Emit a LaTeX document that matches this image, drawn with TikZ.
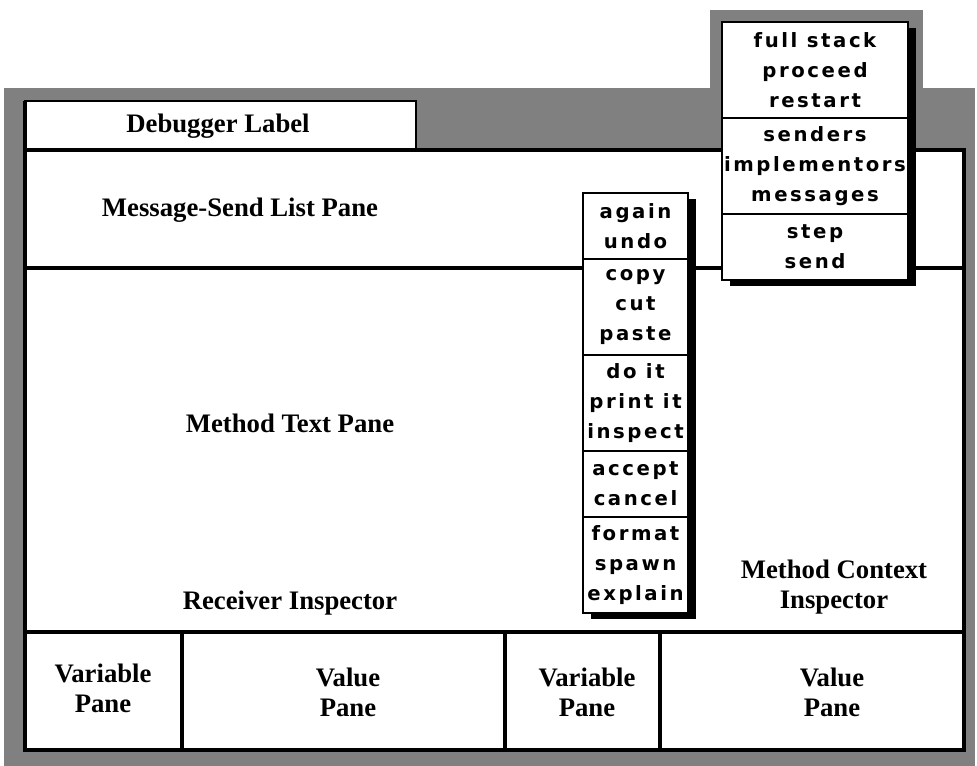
\documentclass[tikz,border=0pt]{standalone}
\usepackage{fontspec}
\setmainfont{Liberation Serif}
\newfontfamily\menufont[LetterSpace=13]{DejaVu Sans Bold}
\usetikzlibrary{positioning,shadows}
\definecolor{dither}{gray}{0.5}

\begin{document}
\begin{tikzpicture}[x=0.025cm, y=-0.025cm,
  pane/.style={font=\fontsize{19}{21.3}\selectfont\bfseries, align=center},
  divider/.style={line width=3pt},
  menugrp/.style={draw, line width=1pt, fill=white, outer sep=0pt, inner sep=0pt,
    align=center, font=\menufont\fontsize{14}{21.3}\selectfont,
    minimum height=#1*0.75cm+0.15cm},
  pop/.style={drop shadow={shadow xshift=0.2cm, shadow yshift=-0.15cm,
    fill=black, opacity=1}},
  narrow/.style={minimum width=2.625cm},
  wide/.style={minimum width=4.65cm}]

  \useasboundingbox (0,0) rectangle (977,766);

  % dithered window frame and the halo of the top menu
  \fill[dither] (4,88) rectangle (975,766);
  \fill[dither] (710,10) rectangle (923,90);

  \draw[line width=1.2pt, fill=white] (25,101) rectangle (416,150);
  \draw[divider, fill=white] (25,150) rectangle (964,750);
  \draw[divider] (25,101) -- (25,150);

  % pane borders
  \draw[divider] (25,268) -- (964,268);
  \draw[divider] (25,632) -- (964,632);
  \draw[divider] (182,632) -- (182,750);
  \draw[divider] (505,632) -- (505,750);
  \draw[divider] (660,632) -- (660,750);

  \node[pane] (label) at (218,126) {Debugger Label};
  \node[pane] (sends) at (240,210) {Message-Send List Pane};
  \node[pane] (method) at (290,423) {Method Text Pane};
  \node[pane] (receiver) at (290,603) {Receiver Inspector};
  \node[pane] (context) at (834,587) {Method Context\\Inspector};
  \node[pane] (rvar) at (103,688) {Variable\\Pane};
  \node[pane] (rval) at (348,692) {Value\\Pane};
  \node[pane] (cvar) at (587,692) {Variable\\Pane};
  \node[pane] (cval) at (832,692) {Value\\Pane};

  % text pane menu
  \node[menugrp=2, narrow, pop, anchor=north west] (edit) at (583,193) {again\\undo};
  \node[menugrp=3, narrow, pop, below=0pt of edit] (clip) {copy\\cut\\paste};
  \node[menugrp=3, narrow, pop, below=0pt of clip] (eval) {do it\\print it\\inspect};
  \node[menugrp=2, narrow, pop, below=0pt of eval] (save) {accept\\cancel};
  \node[menugrp=3, narrow, pop, below=0pt of save] (misc) {format\\spawn\\explain};

  % message-send list menu
  \node[menugrp=3, wide, pop, anchor=north west] (stack) at (722,22) {full stack\\proceed\\restart};
  \node[menugrp=3, wide, pop, below=0pt of stack] (query) {senders\\implementors\\messages};
  \node[menugrp=2, wide, pop, below=0pt of query] (run) {step\\send};
\end{tikzpicture}
\end{document}
